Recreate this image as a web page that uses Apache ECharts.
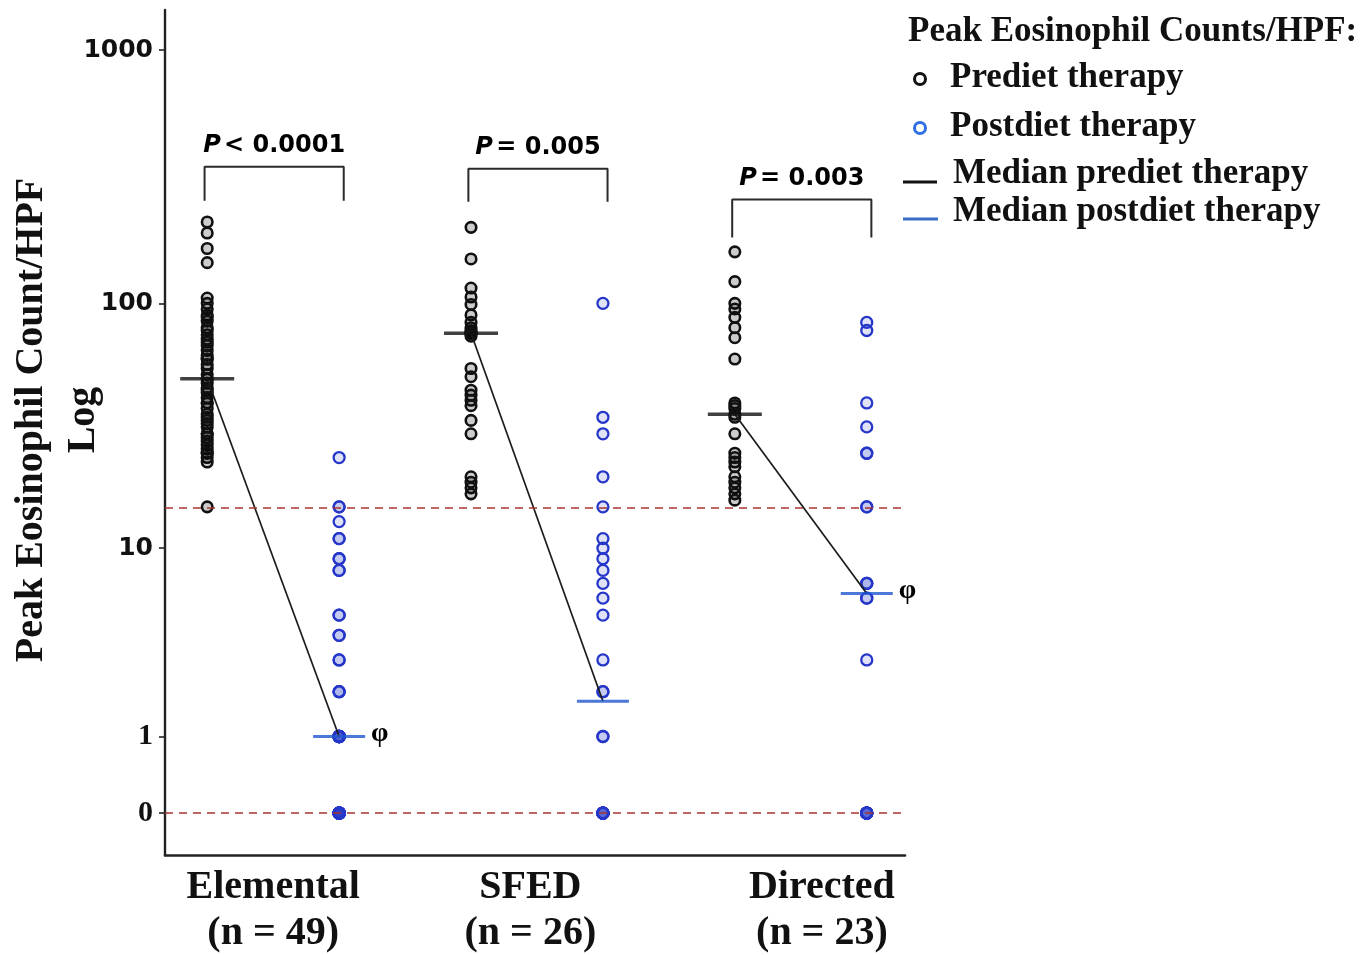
<!DOCTYPE html>
<html>
<head>
<meta charset="utf-8">
<title>Peak eosinophil counts before and after diet therapy</title>
<script src="https://cdn.jsdelivr.net/npm/echarts@6/dist/echarts.min.js"></script>
<style>
  html, body { margin: 0; padding: 0; background: #ffffff; }
  #chart { width: 1366px; height: 955px; }
</style>
</head>
<body>
<div id="chart"></div>
<script>
// ---- data: peak eosinophil counts per HPF ----
const groups = ['Elemental', 'SFED', 'Directed'];
const groupN = [49, 26, 23];

const elementalPre = [210, 190, 165, 145, 105, 100, 95, 90, 88, 85, 80, 78, 75, 72, 70, 68, 65, 62, 60, 60,
  57, 55, 52, 50, 50, 48, 46, 45, 44, 42, 40, 40, 38, 36, 35, 34, 33, 32, 30, 30, 29, 28, 27, 26, 25, 25, 24, 23, 15];
const elementalPost = [0, 0, 0, 0, 0, 0, 0, 0, 0, 0, 0, 0, 0, 0, 0, 0, 0, 0, 0, 0,
  1, 1, 1, 1, 1, 1, 1, 1, 1, 1, 2, 2, 2, 3, 3, 4, 4, 5, 5, 8, 8, 9, 9, 11, 11, 13, 15, 15, 24];

const sfedPre = [200, 150, 115, 106, 99, 90, 84, 80, 78, 77, 76, 76, 76, 74, 55, 51, 45, 43, 41, 39, 34, 30, 20, 19, 18, 17];
const sfedPost = [0, 0, 0, 0, 0, 0, 0, 0, 0, 1, 1, 2, 2, 3, 5, 6, 7, 8, 9, 10, 11, 15, 20, 30, 35, 100];

const directedPre = [160, 122, 100, 95, 88, 80, 73, 60, 40, 39, 38, 36, 35, 30, 25, 24, 23, 22, 20, 19, 18, 17, 16];
const directedPost = [0, 0, 0, 0, 0, 0, 0, 0, 0, 3, 6, 6, 7, 7, 7, 15, 15, 25, 25, 32, 40, 78, 84];

const medianPre = [50, 76, 36];
const medianPost = [1, 1.75, 6.3];
const pValues = ['< 0.0001', '= 0.005', '= 0.003'];
const phiNotes = ['φ', '', 'φ'];

const tickCounts = [0, 1, 10, 100, 1000];
const thresholdCount = 15;

// ---- scale: counts are plotted as log10(count + 1) so that 0 can be shown ----
const toAxis = v => Math.log10(v + 1);

const preSets = [elementalPre, sfedPre, directedPre];
const postSets = [elementalPost, sfedPost, directedPost];
const xPre = g => g * 2 + 1;
const xPost = g => g * 2 + 2;

const BLACK = '#111111';
const BLUE = '#2536c9';
const BLUE_MEDIAN = '#1e56d0';
const SERIF = '"Liberation Serif", "Times New Roman", serif';
const SANS = '"DejaVu Sans", Verdana, sans-serif';

// bracket layout (axis units) above each pair
const bracketTop = [2.542, 2.534, 2.413];
const bracketDrop = [0.134, 0.13, 0.15];
const groupLabelX = [1.5, 3.45, 5.66];

const preData = [];
const postData = [];
preSets.forEach((arr, g) => arr.forEach(v => preData.push([xPre(g), toAxis(v)])));
postSets.forEach((arr, g) => arr.forEach(v => postData.push([xPost(g), toAxis(v)])));

const series = [];

series.push({
  name: 'Prediet therapy',
  type: 'scatter',
  data: preData,
  symbol: 'circle',
  symbolSize: 10.5,
  z: 3,
  itemStyle: { color: 'rgba(0,0,0,0.2)', borderColor: BLACK, borderWidth: 2.6, opacity: 1 },
  markLine: {
    silent: true,
    symbol: ['none', 'none'],
    label: { show: false },
    lineStyle: { type: [8, 6], color: '#a8352f', width: 1.7, opacity: 1 },
    data: [{ yAxis: toAxis(thresholdCount) }, { yAxis: toAxis(0) }]
  }
});

series.push({
  name: 'Postdiet therapy',
  type: 'scatter',
  data: postData,
  symbol: 'circle',
  symbolSize: 11,
  z: 3,
  itemStyle: { color: 'rgba(37,54,201,0.14)', borderColor: BLUE, borderWidth: 2.3, opacity: 1 }
});

// median connectors
groups.forEach((name, g) => {
  series.push({
    type: 'line',
    data: [[xPre(g), toAxis(medianPre[g])], [xPost(g), toAxis(medianPost[g])]],
    symbol: 'none',
    z: 4,
    lineStyle: { color: '#1c1c1c', width: 1.7 },
    silent: true
  });
});

series.push({
  name: 'Median prediet therapy',
  type: 'scatter',
  symbol: 'rect',
  symbolSize: [54, 3.5],
  z: 5,
  itemStyle: { color: BLACK },
  data: medianPre.map((m, g) => [xPre(g), toAxis(m)])
});

series.push({
  name: 'Median postdiet therapy',
  type: 'scatter',
  symbol: 'rect',
  symbolSize: [52, 3],
  z: 5,
  itemStyle: { color: BLUE_MEDIAN },
  data: medianPost.map((m, g) => ({
    value: [xPost(g), toAxis(m)],
    label: {
      show: phiNotes[g] !== '',
      formatter: phiNotes[g],
      position: 'right',
      distance: 6,
      offset: [0, -3],
      fontFamily: SERIF,
      fontWeight: 'bold',
      fontSize: 28,
      color: '#000000',
      opacity: 1
    }
  }))
});

// significance brackets with P values
groups.forEach((name, g) => {
  const top = bracketTop[g];
  const bottom = top - bracketDrop[g];
  const x0 = xPre(g) - 0.02, x1 = xPost(g) + 0.035;
  series.push({
    type: 'line',
    data: [[x0, bottom], [x0, top], [x1, top], [x1, bottom]],
    symbol: 'none',
    silent: true,
    lineStyle: { color: '#2a2a2a', width: 2 }
  });
  series.push({
    type: 'scatter',
    silent: true,
    symbolSize: 0,
    data: [[(x0 + x1) / 2, top]],
    label: {
      show: true,
      position: 'top',
      distance: 9,
      color: '#000000',
      opacity: 1,
      formatter: '{i|P} {b|' + pValues[g] + '}',
      rich: {
        i: { fontFamily: SANS, fontStyle: 'italic', fontWeight: 'bold', fontSize: 24, color: '#000000' },
        b: { fontFamily: SANS, fontWeight: 'bold', fontSize: 24, color: '#000000' }
      }
    }
  });
});

const tickValues = tickCounts.map(toAxis);

const option = {
  backgroundColor: '#ffffff',
  animation: false,
  grid: { left: 165, right: 461, top: 10, bottom: 100, containLabel: false, outerBoundsMode: 'none' },
  xAxis: {
    type: 'value',
    min: 0.68,
    max: 6.29,
    splitLine: { show: false },
    axisTick: { show: false },
    axisLine: { onZero: false, lineStyle: { color: '#222222', width: 2.6 } },
    axisLabel: {
      customValues: groupLabelX,
      margin: 10,
      fontFamily: SERIF,
      fontWeight: 'bold',
      fontSize: 40,
      lineHeight: 46,
      color: '#111111',
      formatter: v => {
        let best = 0;
        groupLabelX.forEach((p, i) => { if (Math.abs(p - v) < Math.abs(groupLabelX[best] - v)) best = i; });
        return groups[best] + '\n(n = ' + groupN[best] + ')';
      }
    }
  },
  yAxis: {
    type: 'value',
    min: -0.165,
    max: 3.158,
    splitLine: { show: false },
    axisLine: { show: true, onZero: false, lineStyle: { color: '#222222', width: 2.4 } },
    axisTick: { show: true, customValues: tickValues, length: 6, lineStyle: { color: '#222222', width: 1.6 } },
    axisLabel: {
      customValues: tickValues,
      margin: 12,
      color: '#111111',
      formatter: v => {
        let best = 0;
        tickValues.forEach((p, i) => { if (Math.abs(p - v) < Math.abs(tickValues[best] - v)) best = i; });
        const c = tickCounts[best];
        return c <= 1 ? '{s|' + c + '}' : '{n|' + c + '}';
      },
      rich: {
        n: { fontFamily: SANS, fontWeight: 'bold', fontSize: 25, color: '#111111' },
        s: { fontFamily: SERIF, fontWeight: 'bold', fontSize: 30, color: '#111111' }
      }
    }
  },
  series: series,
  graphic: [
    {
      type: 'text', x: 58, y: 420, rotation: Math.PI / 2,
      style: {
        text: 'Peak Eosinophil Count/HPF\nLog',
        align: 'center', verticalAlign: 'middle',
        font: 'bold 40px ' + SERIF, lineHeight: 52, fill: '#111111'
      }
    },
    { type: 'text', x: 908, y: 32, style: { text: 'Peak Eosinophil Counts/HPF:', verticalAlign: 'middle', font: 'bold 35px ' + SERIF, fill: '#111111' } },
    { type: 'circle', shape: { cx: 920, cy: 79, r: 5.5 }, style: { fill: 'none', stroke: BLACK, lineWidth: 3 } },
    { type: 'text', x: 950, y: 78, style: { text: 'Prediet therapy', verticalAlign: 'middle', font: 'bold 35px ' + SERIF, fill: '#111111' } },
    { type: 'circle', shape: { cx: 920, cy: 128, r: 5.5 }, style: { fill: 'none', stroke: '#2f6fe0', lineWidth: 3 } },
    { type: 'text', x: 950, y: 127, style: { text: 'Postdiet therapy', verticalAlign: 'middle', font: 'bold 35px ' + SERIF, fill: '#111111' } },
    { type: 'line', shape: { x1: 903, y1: 182, x2: 937, y2: 182 }, style: { stroke: BLACK, lineWidth: 3 } },
    { type: 'text', x: 953, y: 174, style: { text: 'Median prediet therapy', verticalAlign: 'middle', font: 'bold 35px ' + SERIF, fill: '#111111' } },
    { type: 'line', shape: { x1: 903, y1: 219, x2: 938, y2: 219 }, style: { stroke: '#3a6fc8', lineWidth: 3 } },
    { type: 'text', x: 953, y: 212, style: { text: 'Median postdiet therapy', verticalAlign: 'middle', font: 'bold 35px ' + SERIF, fill: '#111111' } }
  ]
};

const chart = echarts.init(document.getElementById('chart'), null, { renderer: 'canvas' });
chart.setOption(option);
</script>
</body>
</html>
